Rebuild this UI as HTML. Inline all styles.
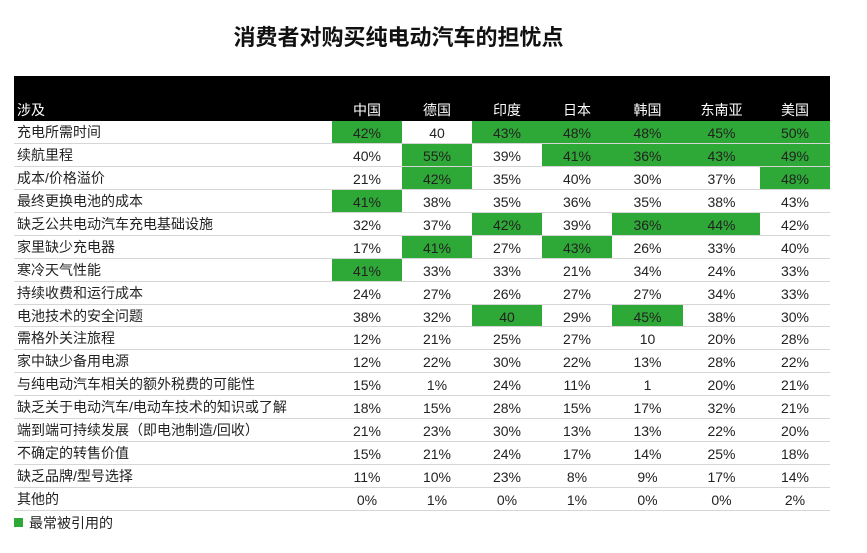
<!DOCTYPE html>
<html><head><meta charset="utf-8">
<style>
body{margin:0;background:#fff;font-family:"Liberation Sans","Noto Sans CJK SC",sans-serif;}
#wrap{position:relative;width:867px;height:553px;overflow:hidden;}
.t{position:absolute;white-space:nowrap;}
.cell{position:absolute;text-align:center;font-size:14px;color:#222;line-height:22px;}
.lab{position:absolute;font-size:14px;color:#222;line-height:22px;left:17px;}
.hd{position:absolute;color:#fff;font-size:14px;text-align:center;}
.line{position:absolute;height:1px;background:#d6d6d6;}
</style></head><body>
<div id="wrap">
<div class="t" style="left:0;width:797px;text-align:center;top:20px;font-size:22px;font-weight:bold;color:#111;">消费者对购买纯电动汽车的担忧点</div>
<div style="position:absolute;left:14px;top:76px;width:816px;height:45px;background:#000;"></div>
<div class="hd" style="left:17px;top:100px;">涉及</div>
<div id="tbl"></div>
<div style="position:absolute;left:14px;top:518px;width:9px;height:9px;background:#2ea836;"></div>
<div class="t" style="left:29px;top:513px;font-size:14px;color:#222;">最常被引用的</div>
</div>
<script>
const countries=["中国","德国","印度","日本","韩国","东南亚","美国"];
const topics=["充电所需时间","续航里程","成本/价格溢价","最终更换电池的成本","缺乏公共电动汽车充电基础设施","家里缺少充电器","寒冷天气性能","持续收费和运行成本","电池技术的安全问题","需格外关注旅程","家中缺少备用电源","与纯电动汽车相关的额外税费的可能性","缺乏关于电动汽车/电动车技术的知识或了解","端到端可持续发展（即电池制造/回收）","不确定的转售价值","缺乏品牌/型号选择","其他的"];
const values=[
["42%","40","43%","48%","48%","45%","50%"],
["40%","55%","39%","41%","36%","43%","49%"],
["21%","42%","35%","40%","30%","37%","48%"],
["41%","38%","35%","36%","35%","38%","43%"],
["32%","37%","42%","39%","36%","44%","42%"],
["17%","41%","27%","43%","26%","33%","40%"],
["41%","33%","33%","21%","34%","24%","33%"],
["24%","27%","26%","27%","27%","34%","33%"],
["38%","32%","40","29%","45%","38%","30%"],
["12%","21%","25%","27%","10","20%","28%"],
["12%","22%","30%","22%","13%","28%","22%"],
["15%","1%","24%","11%","1","20%","21%"],
["18%","15%","28%","15%","17%","32%","21%"],
["21%","23%","30%","13%","13%","22%","20%"],
["15%","21%","24%","17%","14%","25%","18%"],
["11%","10%","23%","8%","9%","17%","14%"],
["0%","1%","0%","1%","0%","0%","2%"]];
const highlight=[
[1,0,1,1,1,1,1],[0,1,0,1,1,1,1],[0,1,0,0,0,0,1],[1,0,0,0,0,0,0],
[0,0,1,0,1,1,0],[0,1,0,1,0,0,0],[1,0,0,0,0,0,0],[0,0,0,0,0,0,0],
[0,0,1,0,1,0,0],[0,0,0,0,0,0,0],[0,0,0,0,0,0,0],[0,0,0,0,0,0,0],
[0,0,0,0,0,0,0],[0,0,0,0,0,0,0],[0,0,0,0,0,0,0],[0,0,0,0,0,0,0],[0,0,0,0,0,0,0]];
const colX=[332,402,472,542,612,683,760,830];
const top0=121,rowH=(511-121)/topics.length;
const wrap=document.getElementById('wrap');
function mk(cls,st,txt){const d=document.createElement('div');d.className=cls;d.style.cssText=st;if(txt!==undefined)d.textContent=txt;wrap.appendChild(d);return d;}
countries.forEach((c,j)=>{
 const d=mk('hd',`left:${colX[j]}px;width:${colX[j+1]-colX[j]}px;top:100px;`,c);
 
 
});
topics.forEach((t,i)=>{
 const y=top0+i*rowH;
 const l=mk('lab',`top:${y}px;`,t);
 
 
 values[i].forEach((v,j)=>{
  const bg=highlight[i][j]?'background:#2ea836;':'';
  const c=mk('cell',`left:${colX[j]}px;width:${colX[j+1]-colX[j]}px;top:${y}px;height:${rowH}px;line-height:${rowH+2}px;${bg}`,v);
  
  
 });
 const ln=mk('line',`left:14px;width:816px;top:${y+rowH-1}px;`);
 
 
});
</script>
</body></html>
